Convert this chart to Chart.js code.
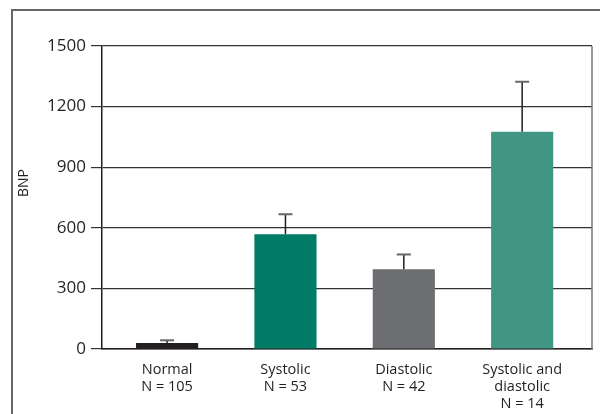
<!DOCTYPE html>
<html>
<head>
<meta charset="UTF-8">
<script src="https://cdn.jsdelivr.net/npm/chart.js"></script>
<style>
  html, body { margin: 0; padding: 0; background: #fff; }
  #wrap { width: 600px; height: 414px; }
</style>
</head>
<body>
<div id="wrap"><canvas id="c" width="600" height="414"></canvas></div>
<script>
  const groups = [['Normal', 'N = 105'], ['Systolic', 'N = 53'], ['Diastolic', 'N = 42'], ['Systolic and', 'diastolic', 'N = 14']];
  const bnp = [30, 568, 395, 1075];
  const bnpUpper = [43, 667, 468, 1323];
  const barColors = ['#231f20', '#007b65', '#6d6e71', '#419683'];
  const yTicks = [0, 300, 600, 900, 1200, 1500];
  const yTitle = 'BNP';

  const frame = {
    id: 'frame',
    beforeDraw(chart) {
      const ctx = chart.ctx;
      ctx.save();
      ctx.strokeStyle = '#666';
      ctx.lineWidth = 2;
      ctx.beginPath();
      ctx.moveTo(600, 10); ctx.lineTo(12, 10); ctx.lineTo(12, 414);
      ctx.stroke();
      // y title, sits a bit above the axis middle like the original
      ctx.translate(24, 183);
      ctx.rotate(-Math.PI / 2);
      ctx.fillStyle = '#231f20';
      ctx.font = '14px "Open Sans"';
      ctx.textAlign = 'center';
      ctx.textBaseline = 'middle';
      ctx.fillText(yTitle, 0, 0);
      ctx.restore();
    },
    afterDatasetsDraw(chart) {
      const ctx = chart.ctx, a = chart.chartArea;
      const x = chart.scales.x, y = chart.scales.y;
      ctx.save();
      ctx.strokeStyle = '#777';
      ctx.lineWidth = 1.5;
      ctx.beginPath();
      ctx.moveTo(a.right, a.top); ctx.lineTo(a.right, a.bottom);
      ctx.stroke();
      bnp.forEach((v, i) => {
        const cx = x.getPixelForValue(i);
        ctx.strokeStyle = '#231f20';
        ctx.lineWidth = 1.5;
        ctx.beginPath();
        ctx.moveTo(cx, y.getPixelForValue(v));
        ctx.lineTo(cx, y.getPixelForValue(bnpUpper[i]));
        ctx.stroke();
        ctx.strokeStyle = '#666';
        ctx.lineWidth = 2;
        ctx.beginPath();
        ctx.moveTo(cx - 7, y.getPixelForValue(bnpUpper[i]));
        ctx.lineTo(cx + 7, y.getPixelForValue(bnpUpper[i]));
        ctx.stroke();
      });
      ctx.restore();
    }
  };

  new Chart(document.getElementById('c'), {
    type: 'bar',
    data: {
      datasets: [{
        data: bnp.map((v, i) => ({ x: i, y: v })),
        backgroundColor: barColors,
        categoryPercentage: 1,
        barPercentage: 0.525
      }]
    },
    options: {
      responsive: false,
      animation: false,
      layout: { padding: { left: 0, right: 8, top: 46, bottom: 0 } },
      plugins: { legend: { display: false }, tooltip: { enabled: false } },
      scales: {
        x: {
          type: 'linear',
          offset: false,
          min: -0.55, max: 3.59,
          afterBuildTicks: s => { s.ticks = groups.map((g, i) => ({ value: i })); },
          grid: { display: false, offset: false },
          border: { color: '#231f20', width: 1.5 },
          ticks: { color: '#231f20', font: { family: 'Open Sans', size: 14.5, lineHeight: 1.15 }, padding: 5, maxRotation: 0, autoSkip: false, callback: v => groups[v] },
          afterFit: s => { s.height = 65; }
        },
        y: {
          min: 0, max: 1500,
          afterBuildTicks: s => { s.ticks = yTicks.map(v => ({ value: v })); },
          grid: { color: '#333', lineWidth: 1.2, tickLength: 11 },
          border: { color: '#231f20', width: 1.5 },
          ticks: { color: '#231f20', font: { family: 'Open Sans', size: 17 }, padding: 5, callback: v => String(v) },
          afterFit: s => { s.width = 102; }
        }
      }
    },
    plugins: [frame]
  });
</script>
</body>
</html>
